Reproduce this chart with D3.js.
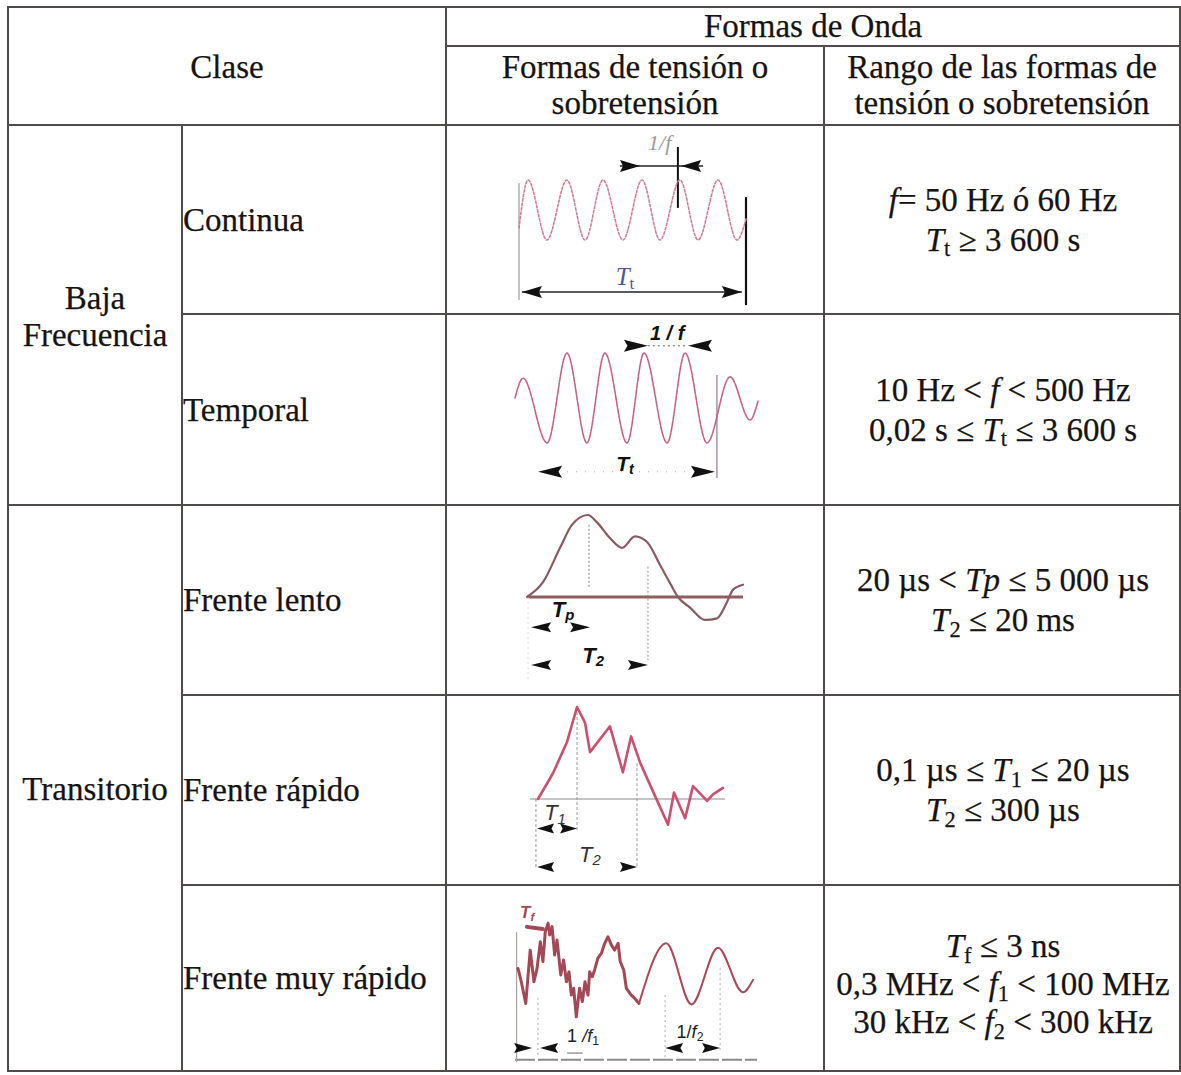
<!DOCTYPE html>
<html><head><meta charset="utf-8">
<script src="https://cdn.jsdelivr.net/npm/d3@7"></script>
<style>body{margin:0;background:#fff}svg{display:block}</style>
</head><body>
<script>
// ---------------- DATA ----------------
const headerTop = "Formas de Onda";
const headerClase = "Clase";
const headerCol2 = ["Formas de tensión o", "sobretensión"];
const headerCol3 = ["Rango de las formas de", "tensión o sobretensión"];
const classNames = [["Baja", "Frecuencia"], ["Transitorio"]];
const classRows = [[0, 1], [2, 3, 4]];
const subclasses = ["Continua", "Temporal", "Frente lento", "Frente rápido", "Frente muy rápido"];
// rich text parts: [text, style]  (i = italic, s = subscript)
const ranges = [
  [[["f","i"],["= 50 Hz ó 60 Hz",""]], [["T","i"],["t","s"],[" ≥ 3 600 s",""]]],
  [[["10 Hz < ",""],["f","i"],[" < 500 Hz",""]], [["0,02 s ≤ ",""],["T","i"],["t","s"],[" ≤ 3 600 s",""]]],
  [[["20 µs < ",""],["Tp","i"],[" ≤ 5 000 µs",""]], [["T","i"],["2","s"],[" ≤ 20 ms",""]]],
  [[["0,1 µs ≤ ",""],["T","i"],["1","s"],[" ≤ 20 µs",""]], [["T","i"],["2","s"],[" ≤ 300 µs",""]]],
  [[["T","i"],["f","s"],[" ≤ 3 ns",""]], [["0,3 MHz < ",""],["f","i"],["1","s"],[" < 100 MHz",""]], [["30 kHz < ",""],["f","i"],["2","s"],[" < 300 kHz",""]]]
];
// waveforms: [time (0-100 of sketch width), voltage (p.u.)]
const waveContinua = [[0,-0.6],[4.0,1],[12.3,-1],[21.1,1],[29.1,-1],[37.0,1],[45.8,-1],[54.2,1],[62.1,-1],[70.9,1],[78.9,-1],[87.7,1],[96.0,-1],[100,-0.3]];
const waveTemporal = [[0,0],[3.3,0.44],[13.2,-1],[21.4,1],[29.6,-1],[37.0,1],[46.1,-1],[53.1,1],[62.6,-1],[70.0,1],[79.0,-1],[88.5,0.47],[96.7,-0.49],[100,-0.07]];
const waveLento = [[0,0],[7.4,0.18],[15.3,0.60],[20.8,0.88],[28.2,1.0],[32.4,0.91],[38.4,0.72],[44.0,0.60],[50.0,0.74],[55.6,0.67],[61.6,0.39],[66.2,0.17],[69.9,0],[75.5,-0.13],[82.4,-0.28],[88.0,-0.26],[92.6,-0.06],[95.4,0.09],[100,0.15]];
const waveRapido = [[0,0],[8.1,0.28],[15.7,0.62],[21.1,1.0],[25.4,0.83],[28.1,0.51],[38.9,0.79],[45.9,0.29],[50.3,0.68],[55.1,0.40],[62.2,0.08],[70.3,-0.28],[73.5,0.07],[79.5,-0.21],[83.8,0.14],[91.4,-0.02],[94.6,0.05],[100,0.12]];
const waveMuyRapidoFront = [[0,0.18],[1.4,-0.25],[3.3,-0.95],[5.2,0.77],[6.8,-0.25],[8.1,0.18],[9.5,1.04],[10.6,0.40],[11.6,1.36],[12.8,1.64],[13.5,1.26],[14.5,1.53],[15.6,0.61],[16.6,1.10],[18.2,-0.03],[19.4,0.45],[20.6,-0.25],[21.7,0.07],[22.7,-0.68],[23.7,-0.46],[24.8,-1.38],[26.2,-0.46],[27.4,-0.89],[28.5,-0.25],[29.8,-0.68],[30.5,0.07],[31.6,-0.09],[32.6,0.13],[34.0,0.51],[35.5,0.67],[36.9,0.99],[38.3,1.20],[39.7,0.94],[41.1,0.77],[42.6,0.99],[43.5,0.40],[45.0,0.13],[46.1,-0.46],[48.2,-0.68],[49.6,-0.78],[51.5,-0.95]];
const waveMuyRapidoTail = [[51.5,-0.95],[63.1,0.99],[73.8,-0.98],[85.1,0.85],[95.7,-0.59],[100,-0.19]];
const tfBar = [[3.8,1.52],[10.6,1.45]];

// ---------------- LAYOUT ----------------
const W = 1181, H = 1075;
const colX = [8, 182, 446, 824, 1180];
const rowY = [7, 46, 125, 314, 505, 695, 885, 1071];
const FS = 33;
const serif = "'Liberation Serif','Times New Roman',serif";
const sans = "'Liberation Sans',Arial,sans-serif";
const ink = "#181313";
const lineCol = "#4f4b4b";

const svg = d3.select("body").append("svg").attr("width", W).attr("height", H);
svg.append("rect").attr("width", W).attr("height", H).attr("fill", "#fff");

function rich(sel, parts, size) {
  let shift = 0;
  parts.forEach(([txt, st]) => {
    const ts = sel.append("tspan").text(txt);
    const target = st.includes("s") ? size * 0.17 : 0;
    if (target !== shift) { ts.attr("dy", target - shift); shift = target; }
    if (st.includes("i")) ts.attr("font-style", "italic");
    if (st.includes("s")) ts.attr("font-size", size * 0.68);
  });
}

// grid lines
const hLines = [[7,0,4],[46,2,4],[125,0,4],[314,1,4],[505,0,4],[695,1,4],[885,1,4],[1071,0,4]];
const vLines = [[0,7,1071],[1,125,1071],[2,7,1071],[3,46,1071],[4,7,1071]];
const grid = svg.append("g").attr("stroke", lineCol).attr("stroke-width", 2);
hLines.forEach(([y,a,b]) => grid.append("line").attr("x1", colX[a]-1).attr("x2", colX[b]+1).attr("y1", y).attr("y2", y));
vLines.forEach(([c,y1,y2]) => grid.append("line").attr("x1", colX[c]).attr("x2", colX[c]).attr("y1", y1).attr("y2", y2));

const txt = svg.append("g").attr("font-family", serif).attr("font-size", FS).attr("fill", ink)
  .attr("stroke", ink).attr("stroke-width", 0.25);
// header
txt.append("text").attr("x", (colX[2]+colX[4])/2).attr("y", 37).attr("text-anchor","middle").text(headerTop);
txt.append("text").attr("x", (colX[0]+colX[2])/2).attr("y", 78).attr("text-anchor","middle").text(headerClase);
headerCol2.forEach((s,i) => txt.append("text").attr("x", (colX[2]+colX[3])/2).attr("y", 78+i*36).attr("text-anchor","middle").text(s));
headerCol3.forEach((s,i) => txt.append("text").attr("x", (colX[3]+colX[4])/2).attr("y", 78+i*36).attr("text-anchor","middle").text(s));
// classes
classNames.forEach((lines, k) => {
  const r = classRows[k];
  const mid = (rowY[r[0]+2] + rowY[r[r.length-1]+3]) / 2;
  lines.forEach((s, i) => txt.append("text").attr("x", (colX[0]+colX[1])/2)
    .attr("y", mid + 12 + (i - (lines.length-1)/2) * 37).attr("text-anchor","middle").text(s));
});
// subclasses + ranges
subclasses.forEach((s, i) => {
  const mid = (rowY[i+2] + rowY[i+3]) / 2;
  txt.append("text").attr("x", colX[1] + 1).attr("y", mid + 11).text(s);
  const lines = ranges[i];
  const lh = lines.length === 3 ? 38 : 40;
  const c = mid + 11 + (lines.length === 3 ? 6 : 0);
  lines.forEach((parts, j) => {
    const t = txt.append("text").attr("x", (colX[3]+colX[4])/2 + 1).attr("y", c + (j - (lines.length-1)/2) * lh).attr("text-anchor","middle");
    rich(t, parts, FS);
  });
});

// ---------------- WAVEFORM SKETCHES ----------------
function sketch(cfg) {
  const x = d3.scaleLinear().domain([0, 100]).range(cfg.xr);
  const y = d3.scaleLinear().domain([0, 1]).range(cfg.yr);
  const g = svg.append("g");
  (cfg.axes || []).forEach(a => g.append("line").attr("x1", x(a.t0)).attr("x2", x(a.t1)).attr("y1", y(a.v)).attr("y2", y(a.v))
    .attr("stroke", a.c).attr("stroke-width", a.w).attr("stroke-dasharray", a.dash || null));
  (cfg.vlines || []).forEach(a => g.append("line").attr("x1", x(a.t)).attr("x2", x(a.t)).attr("y1", y(a.v0)).attr("y2", y(a.v1))
    .attr("stroke", a.c).attr("stroke-width", a.w).attr("stroke-dasharray", a.dash || null));
  (cfg.waves || []).forEach(wv => {
    const ln = d3.line().x(d => x(d[0])).y(d => y(d[1])).curve(wv.curve);
    g.append("path").attr("d", ln(wv.data)).attr("fill", "none").attr("stroke", wv.c).attr("stroke-width", wv.w)
      .attr("stroke-linejoin", "round").attr("stroke-linecap", "round").attr("stroke-dasharray", wv.dash || null);
  });
  (cfg.dims || []).forEach(d => {
    if (d.line) g.append("line").attr("x1", x(d.line[0])).attr("x2", x(d.line[1])).attr("y1", y(d.v)).attr("y2", y(d.v))
      .attr("stroke", d.lc || "#222").attr("stroke-width", d.lw || 1.5).attr("stroke-dasharray", d.dash || null);
    d.heads.forEach(([t, dir]) => {
      const tx = x(t), ty = y(d.v), L = cfg.hl, h = cfg.hh;
      g.append("path").attr("d", `M${tx},${ty} L${tx - dir*L},${ty - h} L${tx - dir*L*0.85},${ty} L${tx - dir*L},${ty + h} Z`)
        .attr("fill", cfg.hc || "#111");
    });
  });
  (cfg.labels || []).forEach(l => {
    const t = g.append("text").attr("x", x(l.t)).attr("y", y(l.v)).attr("text-anchor", l.anchor || "middle")
      .attr("font-family", l.font || sans).attr("font-size", l.size).attr("fill", l.c || "#111")
      .attr("font-weight", l.bold ? "bold" : null).attr("font-style", l.italic ? "italic" : null);
    rich(t, l.parts, l.size);
  });
}

// Continua
sketch({
  xr: [519, 746], yr: [210, 180], hl: 20, hh: 6,
  vlines: [{t:0, v0:0.9, v1:-3.0, c:"#9a9a9a", w:1.2}, {t:100, v0:0.43, v1:-3.17, c:"#111", w:2.2}, {t:70.0, v0:2.1, v1:0.07, c:"#111", w:2}],
  waves: [{data: waveContinua, curve: d3.curveMonotoneX, c:"#cf7f95", w:1.6, dash:"2.5,2"}],
  dims: [{v:1.47, line:[44.5,81.1], heads:[[53.3,1],[71.4,-1]]}, {v:-2.73, line:[1.3,98.2], heads:[[1.3,-1],[98.2,1]]}],
  labels: [{t:62, v:2.0, size:22, c:"#9a9a9a", font:serif, italic:true, parts:[["1/f",""]]},
           {t:46.7, v:-2.5, size:25, c:"#4a5898", font:serif, parts:[["T","i"],["t","s"]]}]
});
// Temporal
sketch({
  xr: [515, 758], yr: [398, 353], hl: 24, hh: 6,
  vlines: [{t:83.1, v0:0.51, v1:-1.78, c:"#8a7a8a", w:1.2}],
  waves: [{data: waveTemporal, curve: d3.curveMonotoneX, c:"#c36580", w:1.6, dash:"5,1.2"}],
  dims: [{v:1.16, line:[54.7,71.2], heads:[[54.7,1],[71.2,-1]], dash:"2,3", lw:1, lc:"#666"},
         {v:-1.64, line:[21.4,71.2], heads:[[9.5,-1],[82.3,1]], dash:"1,8", lw:1, lc:"#aaa"}],
  labels: [{t:62.6, v:1.29, size:20, bold:true, italic:true, parts:[["1 / f",""]]},
           {t:45.3, v:-1.62, size:21, bold:true, italic:true, parts:[["T",""],["t","s"]]}]
});
// Frente lento
sketch({
  xr: [527, 743], yr: [597, 515], hl: 20, hh: 5,
  axes: [{t0:0.5, t1:100, v:0, c:"#8c5e62", w:3}],
  vlines: [{t:28.7, v0:0.88, v1:0.11, c:"#888", w:1, dash:"2,2"}, {t:56.0, v0:0.37, v1:-0.77, c:"#888", w:1, dash:"2,2"}, {t:0.5, v0:0, v1:-1.01, c:"#ddd", w:1, dash:"2,3"}],
  waves: [{data: waveLento, curve: d3.curveMonotoneX, c:"#8a5a62", w:2.2}],
  dims: [{v:-0.37, heads:[[1.9,-1],[29.2,1]]}, {v:-0.83, heads:[[1.9,-1],[56.0,1]]}],
  labels: [{t:16.7, v:-0.24, size:22, bold:true, italic:true, parts:[["T",""],["p","s"]]},
           {t:30.6, v:-0.80, size:22, bold:true, italic:true, parts:[["T",""],["2","s"]]}]
});
// Frente rapido
sketch({
  xr: [538, 723], yr: [799, 707], hl: 17, hh: 5,
  axes: [{t0:-4.3, t1:101.1, v:0, c:"#8a8a8a", w:1.2}],
  vlines: [{t:-1.1, v0:0, v1:-0.75, c:"#999", w:1, dash:"3,2"}, {t:21.1, v0:1, v1:-0.36, c:"#999", w:1, dash:"3,2"}, {t:53.5, v0:0.39, v1:-0.75, c:"#999", w:1, dash:"3,2"}],
  waves: [{data: waveRapido, curve: d3.curveLinear, c:"#c9506f", w:2.6}],
  dims: [{v:-0.32, heads:[[-0.5,-1],[21.1,1]]}, {v:-0.74, heads:[[-0.5,-1],[53.5,1]]}],
  labels: [{t:9.2, v:-0.23, size:22, italic:true, c:"#333", parts:[["T",""],["1","s"]]},
           {t:28.1, v:-0.68, size:22, italic:true, c:"#333", parts:[["T",""],["2","s"]]}]
});
// Frente muy rapido
sketch({
  xr: [518, 753], yr: [974, 943], hl: 18, hh: 5,
  axes: [{t0:-1.3, t1:101.7, v:-2.77, c:"#8a8a8a", w:2, dash:"20,3"}],
  vlines: [{t:-0.6, v0:1.35, v1:-2.84, c:"#b0a0a0", w:1.2}, {t:8.5, v0:-0.77, v1:-2.61, c:"#aaa", w:1, dash:"2,3"},
           {t:62.6, v0:-0.68, v1:-2.68, c:"#aaa", w:1, dash:"2,3"}, {t:86.0, v0:0.19, v1:-2.45, c:"#aaa", w:1, dash:"2,3"}],
  waves: [{data: waveMuyRapidoFront, curve: d3.curveLinear, c:"#a44856", w:3},
          {data: waveMuyRapidoTail, curve: d3.curveMonotoneX, c:"#a84a58", w:2},
          {data: tfBar, curve: d3.curveLinear, c:"#a44856", w:4}],
  dims: [{v:-2.39, heads:[[6.0,1],[9.4,-1],[62.6,-1],[86.0,1]]}, {v:-2.55, line:[20.9,27.5], heads:[], lw:1, lc:"#666"}],
  labels: [{t:0.9, v:1.81, size:17, bold:true, italic:true, c:"#a44856", anchor:"start", parts:[["T",""],["f","s"]]},
           {t:20.9, v:-2.19, size:18, anchor:"start", c:"#222", parts:[["1  ",""],["/f","i"],["1","s"]]},
           {t:73.2, v:-2.06, size:18, c:"#222", parts:[["1/",""],["f","i"],["2","s"]]}]
});
</script>
</body></html>
